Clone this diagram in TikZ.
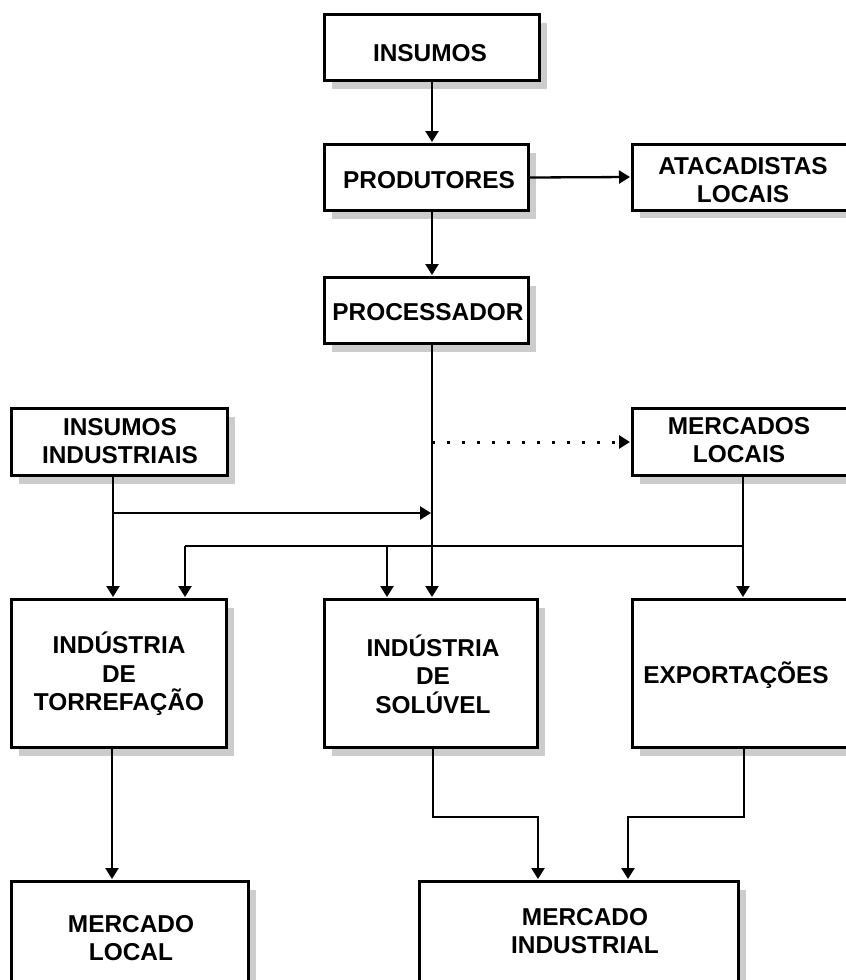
\documentclass[tikz,border=0pt]{standalone}
\usepackage{fontspec}
\setmainfont{Liberation Sans}
\usetikzlibrary{arrows.meta,shadows,calc}
\definecolor{shadowgray}{HTML}{CCCCCC}
\tikzset{
  box/.style={draw=black, line width=3pt, fill=white, inner sep=0pt,
    drop shadow={shadow xshift=7pt, shadow yshift=-8pt, fill=shadowgray, opacity=1}},
  txt/.style={font=\fontsize{24.4}{28.3}\selectfont\bfseries, align=center, inner sep=0pt},
  arr/.style={line width=2.3pt, -{Triangle[width=13pt,length=11pt]}, shorten >=1pt},
  ln/.style={line width=2.2pt},
  dots/.style={line width=3pt, dash pattern=on 3pt off 12pt, -{Triangle[width=13pt,length=11pt]}, shorten >=1pt}
}
\begin{document}
\begin{tikzpicture}[x=1pt,y=-1pt]
\useasboundingbox (0,0) rectangle (846,980);
\clip (0,0) rectangle (846,980);
% boxes
\node[box, minimum width=215, minimum height=66] (ins) at (432,47.5) {};
\node[box, minimum width=204, minimum height=66] (prod) at (426.5,177.5) {};
\node[box, minimum width=247.5, minimum height=66] (atac) at (756.25,177) {};
\node[box, minimum width=204, minimum height=66] (proc) at (426.5,310.5) {};
\node[box, minimum width=216, minimum height=67] (insind) at (119.5,442) {};
\node[box, minimum width=247.5, minimum height=67] (merl) at (756.25,442) {};
\node[box, minimum width=215, minimum height=148] (torr) at (119,673.5) {};
\node[box, minimum width=213, minimum height=148] (sol) at (431,673.5) {};
\node[box, minimum width=247.5, minimum height=148] (exp) at (756.25,673.5) {};
\node[box, minimum width=237, minimum height=118.5] (mloc) at (130,940.75) {};
\node[box, minimum width=319, minimum height=118.5] (mind) at (579,940.75) {};
% texts
\node[txt] (ins-t) at (430,53) {INSUMOS};
\node[txt] (prod-t) at (429,180) {PRODUTORES};
\node[txt] (atac-t) at (743,180) {ATACADISTAS\\LOCAIS};
\node[txt] (proc-t) at (428,312) {PROCESSADOR};
\node[txt] (insind-t) at (120,441) {INSUMOS\\INDUSTRIAIS};
\node[txt] (merl-t) at (739,440) {MERCADOS\\LOCAIS};
\node[txt] (torr-t) at (119,674) {INDÚSTRIA\\DE\\TORREFAÇÃO};
\node[txt] (sol-t) at (433,674) {INDÚSTRIA\\DE\\SOLÚVEL};
\node[txt] (exp-t) at (736,675) {EXPORTAÇÕES};
\node[txt] (mloc-t) at (131,938) {MERCADO\\LOCAL};
\node[txt] (mind-t) at (585,931) {MERCADO\\INDUSTRIAL};
% helper coordinates
\coordinate (xa) at (113,0);
\coordinate (ja) at (113,513);
\coordinate (xb) at (743,0);
\coordinate (jb) at (743,546);
\coordinate (jc) at (185,546);
\coordinate (jd) at (387,546);
\coordinate (xc) at (112,0);
\coordinate (xd) at (433,0);
\coordinate (xe) at (538,817);
\coordinate (xf) at (744,0);
\coordinate (xg) at (628,817);
\coordinate (dotstart) at (432,442);
% connectors
\draw[arr] (ins.south) -- (ins.south |- prod.north);
\draw[arr] (prod.east) -- (atac.west);
\draw[arr] (prod.south -| ins.south) -- (proc.north -| ins.south);
\draw[arr] (proc.south -| ins.south) -- (sol.north -| ins.south);
\draw[dots] (dotstart) -- (merl.west);
\draw[arr] (insind.south -| xa) -- (torr.north -| xa);
\draw[arr] (ja) -- (ja -| ins.south);
\draw[arr] (merl.south -| xb) -- (exp.north -| xb);
\draw[ln] (jb) -- (jc);
\draw[arr] (jc) -- (jc |- torr.north);
\draw[arr] (jd) -- (jd |- sol.north);
\draw[arr] (torr.south -| xc) -- (mloc.north -| xc);
\draw[arr] (sol.south -| xd) |- (xe) -- (xe |- mind.north);
\draw[arr] (exp.south -| xf) |- (xg) -- (xg |- mind.north);
\end{tikzpicture}
\end{document}
